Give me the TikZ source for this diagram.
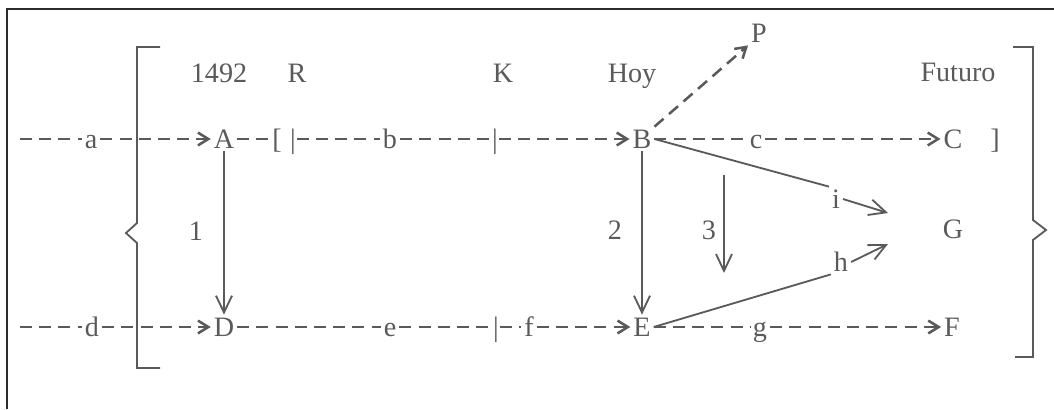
\documentclass[tikz,border=0pt]{standalone}
\usepackage{fontspec}
\setmainfont{Liberation Serif}
\usetikzlibrary{arrows.meta}
\definecolor{inkgray}{RGB}{90,90,90}
\definecolor{framegray}{RGB}{45,45,45}

\begin{document}
\begin{tikzpicture}[x=0.025cm, y=-0.025cm,
  lbl/.style={inner sep=2pt, text height=13.2pt, text depth=0pt, text=inkgray, font=\fontsize{20}{24}\selectfont},
  bar/.style={lbl, inner sep=0.5pt},
  dashline/.style={draw=inkgray, line width=1.8pt, dash pattern=on 3mm off 1.8mm},
  dasharrow/.style={dashline, -{Straight Barb[length=2.6mm, width=3.2mm]}},
  solidline/.style={draw=inkgray, line width=1.3pt},
  solidarrow/.style={solidline, -{Straight Barb[length=4.2mm, width=4mm]}}]
  \useasboundingbox (0,0) rectangle (1054,409);
  % Frame
  \draw[framegray, line width=1.2pt] (7,409) -- (7,9) -- (1054,9);

  % Brackets
  \draw[solidline] (160,47) -- (137,47) -- (137,223) -- (126,233) -- (137,243) -- (137,368) -- (160,368);
  \draw[solidline] (1013,47) -- (1033,47) -- (1033,220) -- (1046,230) -- (1033,240) -- (1033,357) -- (1015,357);

  % Time labels
  \node[lbl] (t1492) at (219,73) {1492};
  \node[lbl] (tR) at (297,73) {R};
  \node[lbl] (tK) at (503,73) {K};
  \node[lbl] (tHoy) at (632,73) {Hoy};
  \node[lbl] (tFut) at (958,72) {Futuro};
  \node[lbl] (P) at (759,33) {P};

  % Top row
  \coordinate (startA) at (20,139);
  \node[lbl] (la) at (91,139) {a};
  \node[lbl] (A) at (224,139) {A};
  \node[bar] (lbr) at (277,139) {[};
  \node[bar] (barR) at (293,139) {|};
  \node[lbl] (lb) at (390,139) {b};
  \node[bar] (barK) at (495,139) {|};
  \node[lbl] (B) at (642,139) {B};
  \node[lbl] (lc) at (756,139) {c};
  \node[lbl] (C) at (953,139) {C};
  \node[bar] (rbr) at (995,139) {]};

  \draw[dashline] (startA) -- (la.west);
  \draw[dasharrow] (la.east) -- (A.west);
  \draw[dashline] (A.east) -- (lbr.west);
  \draw[dashline] (barR.east) -- (lb.west);
  \draw[dashline] (lb.east) -- (barK.west);
  \draw[dasharrow] (barK.east) -- (B.west);
  \draw[dashline] (B.east) -- (lc.west);
  \draw[dasharrow] (lc.east) -- (C.west);
  \draw[dasharrow] (B.north east) -- (P.south west);

  % Middle
  \node[lbl] (n1) at (196,231) {1};
  \node[lbl] (n2) at (615,230) {2};
  \node[lbl] (n3) at (709,230) {3};
  \coordinate (top3) at (724,175);
  \coordinate (bot3) at (724,273);
  \node[lbl] (li) at (836,199) {i};
  \node[lbl] (lh) at (841,262) {h};
  \node[lbl] (G) at (953,229) {G};
  \coordinate (tipi) at (888,213);
  \coordinate (tiph) at (888,244);

  % Bottom row
  \coordinate (startD) at (20,327);
  \node[lbl] (ld) at (92,327) {d};
  \node[lbl] (D) at (224,327) {D};
  \node[lbl] (le) at (390,327) {e};
  \node[bar] (barE) at (496,327) {|};
  \node[lbl] (lf) at (529,327) {f};
  \node[lbl] (E) at (642,327) {E};
  \node[lbl] (lg) at (760,327) {g};
  \node[lbl] (F) at (952,327) {F};

  \draw[dashline] (startD) -- (ld.west);
  \draw[dasharrow] (ld.east) -- (D.west);
  \draw[dashline] (D.east) -- (le.west);
  \draw[dashline] (le.east) -- (barE.west);
  \draw[dashline] (barE.east) -- (lf.west);
  \draw[dasharrow] (lf.east) -- (E.west);
  \draw[dashline] (E.east) -- (lg.west);
  \draw[dasharrow] (lg.east) -- (F.west);

  % Vertical and diagonal arrows
  \draw[solidarrow] (A.south) -- (D.north);
  \draw[solidarrow] (B.south) -- (E.north);
  \draw[solidarrow] (top3) -- (bot3);
  \draw[solidline] (B.east) -- (li.north west);
  \draw[solidarrow] (li.east) -- (tipi);
  \draw[solidline] (E.east) -- (lh.south west);
  \draw[solidarrow] (lh.east) -- (tiph);
\end{tikzpicture}
\end{document}
